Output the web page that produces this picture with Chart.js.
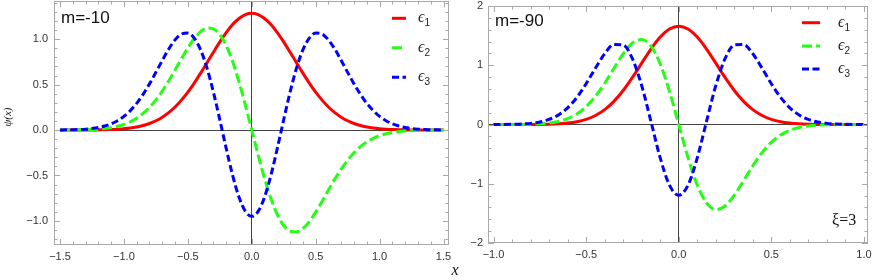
<!DOCTYPE html>
<html>
<head>
<meta charset="utf-8">
<script src="https://cdn.jsdelivr.net/npm/chart.js"></script>
<style>
  html, body { margin: 0; padding: 0; background: #fff; }
  #wrap { position: relative; width: 872px; height: 280px; overflow: hidden; background: #fff; }
  canvas { position: absolute; top: -12px; }
  #leftChart { left: 0; }
  #rightChart { left: 452px; }
</style>
</head>
<body>
<div id="wrap">
  <canvas id="leftChart" width="460" height="292"></canvas>
  <canvas id="rightChart" width="430" height="292"></canvas>
</div>
<script>
// level names shown in the legends
const levelNames = ['ϵ1', 'ϵ2', 'ϵ3'];

// m = -10 panel
const leftX = [-1.5, -1.45, -1.4, -1.35, -1.3, -1.25, -1.2, -1.15, -1.1, -1.05,
  -1.0, -0.95, -0.9, -0.85, -0.8, -0.75, -0.7, -0.65, -0.6, -0.55,
  -0.5, -0.45, -0.4, -0.35, -0.3, -0.25, -0.2, -0.15, -0.1, -0.05,
  0,
  0.05, 0.1, 0.15, 0.2, 0.25, 0.3, 0.35, 0.4, 0.45, 0.5,
  0.55, 0.6, 0.65, 0.7, 0.75, 0.8, 0.85, 0.9, 0.95, 1.0,
  1.05, 1.1, 1.15, 1.2, 1.25, 1.3, 1.35, 1.4, 1.45, 1.5];
const leftE1 = [0, 0, 0, 0, 0.001, 0.001, 0.002, 0.003, 0.006, 0.009,
  0.014, 0.022, 0.034, 0.050, 0.072, 0.102, 0.142, 0.192, 0.254, 0.329,
  0.417, 0.517, 0.626, 0.741, 0.857, 0.970, 1.073, 1.161, 1.228, 1.271,
  1.285,
  1.271, 1.228, 1.161, 1.073, 0.970, 0.857, 0.741, 0.626, 0.517, 0.417,
  0.329, 0.254, 0.192, 0.142, 0.102, 0.072, 0.050, 0.034, 0.022, 0.014,
  0.009, 0.006, 0.003, 0.002, 0.001, 0.001, 0, 0, 0, 0];
const leftE2 = [0, 0.001, 0.001, 0.002, 0.004, 0.006, 0.010, 0.017, 0.026, 0.041,
  0.062, 0.091, 0.131, 0.183, 0.250, 0.332, 0.430, 0.540, 0.661, 0.785,
  0.903, 1.007, 1.083, 1.122, 1.113, 1.050, 0.930, 0.754, 0.532, 0.275,
  0,
  -0.275, -0.532, -0.754, -0.930, -1.050, -1.113, -1.122, -1.083, -1.007, -0.903,
  -0.785, -0.661, -0.540, -0.430, -0.332, -0.250, -0.183, -0.131, -0.091, -0.062,
  -0.041, -0.026, -0.017, -0.010, -0.006, -0.004, -0.002, -0.001, -0.001, 0];
const leftE3 = [0.001, 0.002, 0.003, 0.006, 0.010, 0.017, 0.028, 0.044, 0.068, 0.103,
  0.150, 0.214, 0.294, 0.393, 0.508, 0.635, 0.766, 0.890, 0.992, 1.056,
  1.067, 1.011, 0.882, 0.681, 0.418, 0.114, -0.202, -0.497, -0.738, -0.895,
  -0.950,
  -0.895, -0.738, -0.497, -0.202, 0.114, 0.418, 0.681, 0.882, 1.011, 1.067,
  1.056, 0.992, 0.890, 0.766, 0.635, 0.508, 0.393, 0.294, 0.214, 0.150,
  0.103, 0.068, 0.044, 0.028, 0.017, 0.010, 0.006, 0.003, 0.002, 0.001];
const leftXMajor = [-1.5, -1.0, -0.5, 0, 0.5, 1.0, 1.5];
const leftYMajor = [-1.0, -0.5, 0, 0.5, 1.0];

// m = -90 panel
const rightX = [-1.0, -0.95, -0.9, -0.85, -0.8, -0.75, -0.7, -0.65, -0.6, -0.55,
  -0.5, -0.45, -0.4, -0.35, -0.3, -0.25, -0.2, -0.15, -0.1, -0.05,
  0,
  0.05, 0.1, 0.15, 0.2, 0.25, 0.3, 0.35, 0.4, 0.45, 0.5,
  0.55, 0.6, 0.65, 0.7, 0.75, 0.8, 0.85, 0.9, 0.95, 1.0];
const rightE1 = [0, 0, 0, 0, 0.001, 0.002, 0.005, 0.011, 0.024, 0.047,
  0.087, 0.152, 0.251, 0.391, 0.574, 0.794, 1.036, 1.273, 1.475, 1.612,
  1.660,
  1.612, 1.475, 1.273, 1.036, 0.794, 0.574, 0.391, 0.251, 0.152, 0.087,
  0.047, 0.024, 0.011, 0.005, 0.002, 0.001, 0, 0, 0, 0];
const rightE2 = [0, 0, 0.001, 0.002, 0.005, 0.011, 0.025, 0.051, 0.099, 0.178,
  0.301, 0.475, 0.696, 0.948, 1.193, 1.375, 1.435, 1.323, 1.022, 0.558,
  0,
  -0.558, -1.022, -1.323, -1.435, -1.375, -1.193, -0.948, -0.696, -0.475, -0.301,
  -0.178, -0.099, -0.051, -0.025, -0.011, -0.005, -0.002, -0.001, 0, 0];
const rightE3 = [0, 0.001, 0.003, 0.008, 0.019, 0.042, 0.085, 0.160, 0.281, 0.457,
  0.688, 0.950, 1.194, 1.352, 1.342, 1.110, 0.655, 0.051, -0.564, -1.024,
  -1.194,
  -1.024, -0.564, 0.051, 0.655, 1.110, 1.342, 1.352, 1.194, 0.950, 0.688,
  0.457, 0.281, 0.160, 0.085, 0.042, 0.019, 0.008, 0.003, 0.001, 0];
const rightXMajor = [-1.0, -0.5, 0, 0.5, 1.0];
const rightYMajor = [-2, -1, 0, 1, 2];

const curveStyles = [
  { color: '#ff0000', dash: [] },
  { color: '#22ff11', dash: [10, 4] },
  { color: '#0000ff', dash: [7, 3.5] }
];

// major + minor tick list, Mathematica-like frame ticks
function buildTicks(majors, step) {
  return scale => {
    const out = [];
    const start = Math.ceil(scale.min / step - 1e-6);
    const end = Math.floor(scale.max / step + 1e-6);
    for (let k = start; k <= end; k++) {
      const v = Math.round(k * step * 1000) / 1000;
      out.push({ value: v, major: majors.some(m => Math.abs(m - v) < 1e-6) });
    }
    scale.ticks = out;
  };
}

function fmt(v, dec) {
  return (v < 0 ? '\u2212' : '') + Math.abs(v).toFixed(dec);
}

const frameTicks = {
  id: 'frameTicks',
  afterDraw(chart) {
    const { ctx, chartArea: a, scales: { x, y } } = chart;
    ctx.save();
    ctx.strokeStyle = '#a8a8a8';
    ctx.lineWidth = 1;
    ctx.strokeRect(a.left + 0.5, a.top + 0.5, a.right - a.left - 1, a.bottom - a.top - 1);
    ctx.beginPath();
    x.ticks.forEach(t => {
      const px = Math.round(x.getPixelForValue(t.value)) + 0.5;
      const len = t.major ? 6 : 3.5;
      ctx.moveTo(px, a.bottom); ctx.lineTo(px, a.bottom - len);
      ctx.moveTo(px, a.top); ctx.lineTo(px, a.top + len);
    });
    y.ticks.forEach(t => {
      const py = Math.round(y.getPixelForValue(t.value)) + 0.5;
      const len = t.major ? 6 : 3.5;
      ctx.moveTo(a.left, py); ctx.lineTo(a.left + len, py);
      ctx.moveTo(a.right, py); ctx.lineTo(a.right - len, py);
    });
    ctx.stroke();
    ctx.restore();
  }
};

const insideLegend = {
  id: 'insideLegend',
  afterDraw(chart, args, o) {
    const ctx = chart.ctx;
    chart.data.datasets.forEach((ds, i) => {
      const y = o.y + i * o.dy - o.dyCanvas;
      const x = o.x - o.dxCanvas;
      ctx.save();
      ctx.strokeStyle = ds.borderColor;
      ctx.lineWidth = ds.borderWidth;
      ctx.setLineDash(ds.borderDash || []);
      ctx.beginPath();
      ctx.moveTo(x, y);
      ctx.lineTo(x + o.w, y);
      ctx.stroke();
      ctx.setLineDash([]);
      ctx.fillStyle = '#222';
      ctx.textBaseline = 'alphabetic';
      ctx.font = 'italic 16px "Liberation Serif", "DejaVu Serif"';
      const tx = o.tx - o.dxCanvas;
      ctx.fillText(ds.label[0], tx, y + 4);
      const w = ctx.measureText(ds.label[0]).width;
      ctx.font = '10px "Liberation Sans"';
      ctx.fillText(ds.label.slice(1), tx + w, y + 8);
      ctx.restore();
    });
  }
};

const extraTexts = {
  id: 'extraTexts',
  afterDraw(chart, args, o) {
    const ctx = chart.ctx;
    (o.items || []).forEach(it => {
      ctx.save();
      ctx.fillStyle = it.color || '#111';
      ctx.font = it.font;
      ctx.textAlign = it.align || 'left';
      ctx.textBaseline = 'middle';
      ctx.translate(it.x - o.dxCanvas, it.y - o.dyCanvas);
      if (it.rotate) ctx.rotate(it.rotate);
      ctx.fillText(it.text, 0, 0);
      ctx.restore();
    });
  }
};

function makeChart(id, xs, series, cfg) {
  const datasets = series.map((ys, i) => ({
    label: levelNames[i],
    data: xs.map((x, k) => ({ x: x, y: ys[k] })),
    borderColor: curveStyles[i].color,
    borderDash: curveStyles[i].dash,
    borderWidth: 3,
    borderCapStyle: 'butt',
    pointRadius: 0,
    fill: false,
    cubicInterpolationMode: 'monotone',
    order: 3 - i
  }));
  const tickFont = { family: '"Liberation Sans", Arial, sans-serif', size: 11 };
  return new Chart(document.getElementById(id), {
    type: 'line',
    data: { datasets: datasets },
    options: {
      responsive: false,
      animation: false,
      devicePixelRatio: 1,
      layout: { padding: cfg.padding },
      plugins: {
        legend: { display: false },
        tooltip: { enabled: false },
        insideLegend: cfg.legend,
        extraTexts: { items: cfg.texts, dxCanvas: cfg.dx, dyCanvas: -12 }
      },
      scales: {
        x: {
          type: 'linear',
          min: cfg.xMin,
          max: cfg.xMax,
          afterBuildTicks: buildTicks(cfg.xMajor, 0.1),
          afterFit: s => { s.height = cfg.xHeight; },
          grid: {
            drawTicks: false,
            color: c => (c.tick && c.tick.value === 0 ? '#444' : 'rgba(0,0,0,0)')
          },
          border: { display: false },
          ticks: {
            autoSkip: false,
            maxRotation: 0,
            padding: 5,
            color: '#333',
            font: tickFont,
            callback: (v, i, t) => (t[i].major ? fmt(v, cfg.xDec) : '')
          }
        },
        y: {
          type: 'linear',
          min: cfg.yMin,
          max: cfg.yMax,
          afterBuildTicks: buildTicks(cfg.yMajor, cfg.yStep),
          afterFit: s => { s.width = cfg.yWidth; },
          grid: {
            drawTicks: false,
            color: c => (c.tick && c.tick.value === 0 ? '#444' : 'rgba(0,0,0,0)')
          },
          border: { display: false },
          ticks: {
            autoSkip: false,
            padding: cfg.yPad,
            color: '#333',
            font: tickFont,
            callback: (v, i, t) => (t[i].major ? fmt(v, cfg.yDec) : '')
          }
        }
      }
    },
    plugins: [frameTicks, insideLegend, extraTexts]
  });
}

makeChart('leftChart', leftX, [leftE1, leftE2, leftE3], {
  padding: { top: 13, right: 11, left: 0, bottom: 0 },
  xMin: -1.547, xMax: 1.543, xMajor: leftXMajor, xDec: 1, xHeight: 35,
  yMin: -1.265, yMax: 1.42, yMajor: leftYMajor, yStep: 0.1, yDec: 1, yWidth: 54, yPad: 6,
  dx: 0,
  legend: { x: 392, w: 14, tx: 418, y: 18.3, dy: 29.5, dxCanvas: 0, dyCanvas: -12 },
  texts: [
    { text: 'm=-10', x: 61, y: 18, font: '17px "Liberation Sans", Arial, sans-serif' },
    { text: 'ψ(x)', x: 8, y: 117, font: 'italic 11px "Liberation Serif", serif', align: 'center', rotate: -Math.PI / 2 },
    { text: 'x', x: 455, y: 271, font: 'italic 16px "Liberation Serif", serif', align: 'center' }
  ]
});

makeChart('rightChart', rightX, [rightE1, rightE2, rightE3], {
  padding: { top: 18, right: 14, left: 0, bottom: 0 },
  xMin: -1.03, xMax: 1.022, xMajor: rightXMajor, xDec: 1, xHeight: 37,
  yMin: -2, yMax: 2, yMajor: rightYMajor, yStep: 0.2, yDec: 0, yWidth: 36, yPad: 5,
  dx: 452,
  legend: { x: 802, w: 18, tx: 838, y: 22.7, dy: 23.2, dxCanvas: 452, dyCanvas: -12 },
  texts: [
    { text: 'm=-90', x: 495, y: 21, font: '17px "Liberation Sans", Arial, sans-serif' },
    { text: 'ξ=3', x: 832, y: 221, font: '16px "Liberation Serif", serif' }
  ]
});
</script>
</body>
</html>
